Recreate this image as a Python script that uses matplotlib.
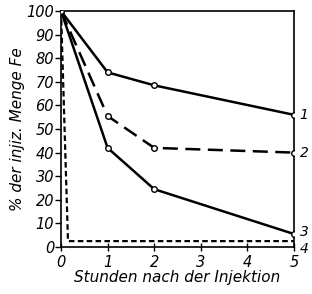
import matplotlib
matplotlib.use("Agg")
import matplotlib.pyplot as plt

hours = [0, 1, 2, 5]
s1 = [100, 74, 68.5, 56]
s2 = [100, 55.5, 42, 40]
s3 = [100, 42, 24.5, 5.5]
hours4 = [0, 0.15, 5]
s4 = [100, 2.5, 2.5]
series_labels = ["1", "2", "3", "4"]
xticks = [0, 1, 2, 3, 4, 5]
yticks = [0, 10, 20, 30, 40, 50, 60, 70, 80, 90, 100]

fam = ["Liberation Sans Narrow", "DejaVu Sans"]
fig = plt.figure(figsize=(3.12, 2.94), dpi=100)
ax = fig.add_axes([61/312, 47/294, 233/312, 236/294])

mk = dict(marker="o", markersize=4, markerfacecolor="white", markeredgecolor="black", markeredgewidth=1)
ax.plot(hours, s1, color="black", lw=1.8, **mk, zorder=3)
ax.plot(hours, s2, color="black", lw=1.8, dashes=(6, 3), **mk, zorder=3)
ax.plot(hours, s3, color="black", lw=1.8, **mk, zorder=3)
ax.plot(hours4, s4, color="black", lw=1.6, dashes=(2.5, 1.5), zorder=2)

ends = [s1[-1], s2[-1], s3[-1] + 1, s4[-1] - 3.5]
for lab, yv in zip(series_labels, ends):
    ax.text(5.12, yv, lab, fontsize=10, style="italic", family=fam, va="center", ha="left", clip_on=False)

ax.set_xlim(0, 5)
ax.set_ylim(0, 100)
ax.set_xticks(xticks)
ax.set_yticks(yticks)
ax.set_xticklabels([str(t) for t in xticks], fontsize=10.5, style="italic", family=fam)
ax.set_yticklabels([str(t) for t in yticks], fontsize=10.5, style="italic", family=fam)
ax.tick_params(axis="y", direction="out", length=4, width=1, pad=1)
ax.tick_params(axis="x", direction="inout", length=6, width=1, pad=3)
for sp in ax.spines.values():
    sp.set_linewidth(1.2)
ax.set_xlabel("Stunden nach der Injektion", fontsize=11, style="italic", family=fam, labelpad=0)
ax.set_ylabel("% der injiz. Menge Fe", fontsize=11, style="italic", family=fam, labelpad=1)

fig.savefig("out.png", dpi=100)
